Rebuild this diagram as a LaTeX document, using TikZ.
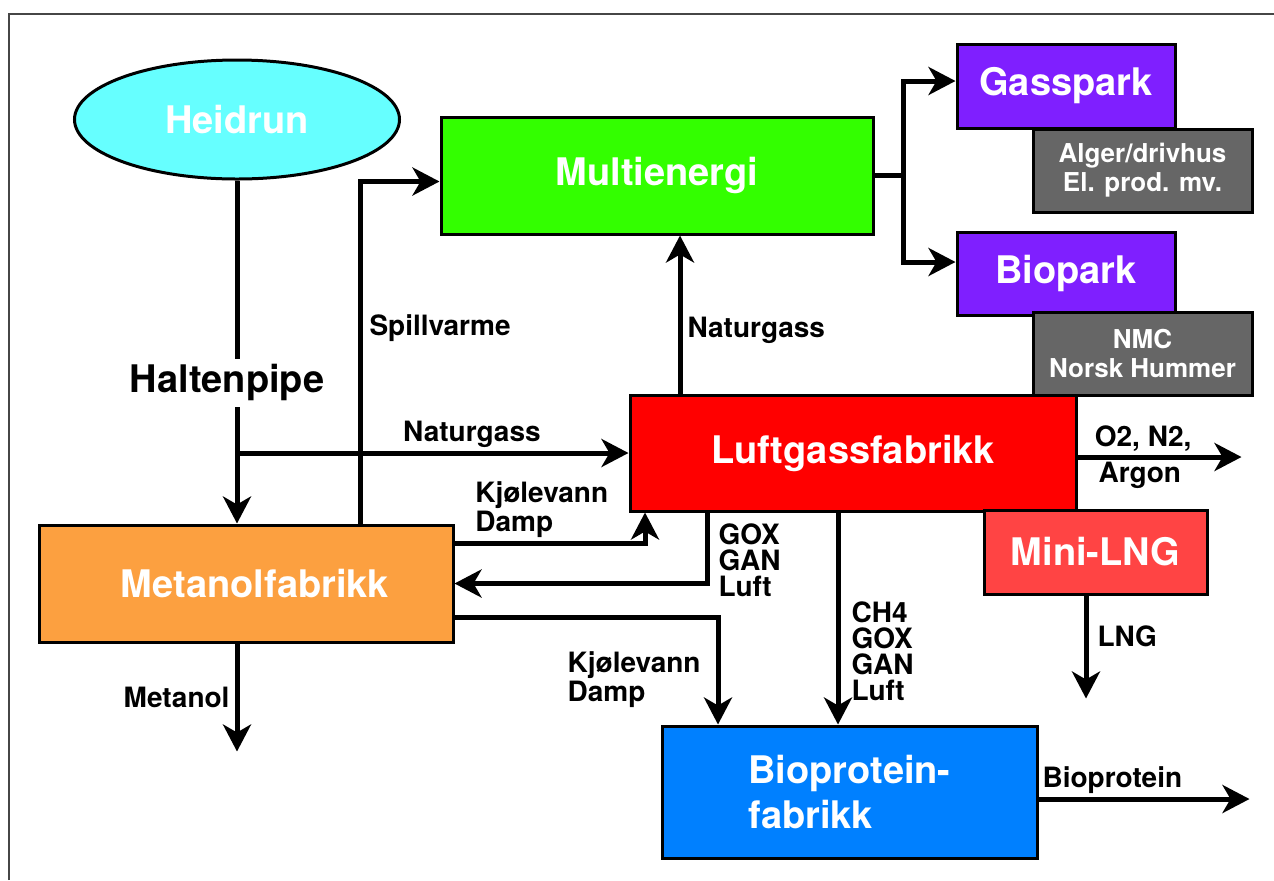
\documentclass[tikz,border=0pt]{standalone}
\usepackage{fontspec}
\setmainfont{TeX Gyre Heros}
\usetikzlibrary{positioning,arrows.meta,shapes.geometric}
\definecolor{heidcyan}{RGB}{102,255,255}
\definecolor{multigreen}{RGB}{51,255,0}
\definecolor{parkpurple}{RGB}{127,31,255}
\definecolor{notegray}{RGB}{102,102,102}
\definecolor{luftred}{RGB}{255,0,0}
\definecolor{lngred}{RGB}{255,68,68}
\definecolor{metorange}{RGB}{252,160,64}
\definecolor{protblue}{RGB}{0,128,255}
\definecolor{framegray}{RGB}{70,70,70}

\begin{document}
\begin{tikzpicture}[x=0.5pt,y=-0.5pt,
    plant/.style={draw=black,line width=1.5pt,inner sep=0pt,text=white,
      font=\bfseries\fontsize{19}{22.5}\selectfont},
    note/.style={draw=black,line width=1.5pt,fill=notegray,inner sep=0pt,text=white,
      align=center,minimum width=109.5pt,minimum height=41.5pt,
      font=\bfseries\fontsize{13}{14.5}\selectfont},
    pipe/.style={line width=2.5pt},
    flow/.style={pipe,-{Stealth[length=13.5pt,width=14pt,inset=4pt]}},
    lbl/.style={inner sep=1.5pt,align=left,font=\bfseries\fontsize{14}{13}\selectfont}]
  \useasboundingbox (0,0) rectangle (1274,880);
  \draw[framegray,line width=1pt] (9,880) -- (9,14) -- (1274,14);

  % anlegg
  \node[plant,ellipse,fill=heidcyan,minimum width=162.5pt,minimum height=59.5pt] (heidrun) at (237,119.5) {Heidrun};
  \node[plant,fill=multigreen,minimum width=216pt,minimum height=58.5pt] (multi) at (657,175.5) {Multienergi};
  \node[plant,fill=parkpurple,minimum width=109pt,minimum height=42pt] (gass) at (1066,86) {Gasspark};
  \node[note] (alger) at (1142.5,170.5) {Alger/drivhus\\El. prod. mv.};
  \node[plant,fill=parkpurple,minimum width=109pt,minimum height=41.5pt] (bio) at (1066,273.5) {Biopark};
  \node[note] (nmc) at (1142.5,353.5) {NMC\\Norsk Hummer};
  \node[plant,fill=luftred,minimum width=223pt,minimum height=58pt] (luft) at (853,453) {Luftgassfabrikk};
  \node[plant,fill=lngred,minimum width=111.5pt,minimum height=42pt] (mini) at (1095.5,552) {Mini-LNG};
  \node[plant,fill=metorange,minimum width=207pt,minimum height=58.5pt,text depth=0pt] (metanol) at (246,583.5) {\hspace*{9pt}Metanolfabrikk};
  \node[plant,fill=protblue,align=left,minimum width=187.5pt,minimum height=66pt] (protein) at (849.5,792) {Bioprotein-\\fabrikk};

  % strømmer
  \draw[flow] (heidrun.south) -- node[pos=0.59,fill=white,inner sep=3pt,xshift=-5pt,
    font=\bfseries\fontsize{19}{22}\selectfont] (haltenlbl) {Haltenpipe} (heidrun.south |- metanol.north);
  \draw[flow] (heidrun.south |- luft.west) -- node[pos=0.6,above,lbl] (ngaslbl) {Naturgass} (luft.west);
  \draw[flow] ([xshift=57pt]metanol.north) |- node[pos=0.286,anchor=west,lbl,xshift=2pt] (spilllbl) {Spillvarme} ([yshift=-3pt]multi.west);
  \draw[flow] ([xshift=-86.5pt]luft.north) -- node[pos=0.4,anchor=west,lbl,xshift=1pt] (ngasuplbl) {Naturgass} ([xshift=-86.5pt]luft.north |- multi.south);

  \coordinate (split) at ([xshift=14.5pt]multi.east);
  \draw[pipe] (multi.east) -- (split);
  \draw[flow] (split) |- ([yshift=2.5pt]gass.west);
  \draw[flow] (split) |- ([yshift=5.75pt]bio.west);

  \draw[flow] ([yshift=20.25pt]metanol.east) -| node[pos=0.25,above,lbl,xshift=-4pt] (kjol1lbl) {Kjølevann\\Damp} ([xshift=-104pt]luft.south);
  \draw[flow] ([xshift=-73pt]luft.south) |- node[pos=0,anchor=north west,lbl,xshift=3pt,yshift=-3pt] (goxlbl) {GOX\\GAN\\Luft} (metanol.east);
  \draw[flow] ([yshift=-16.75pt]metanol.east) -| node[pos=0.79,anchor=east,lbl,xshift=-6pt] (kjol2lbl) {Kjølevann\\Damp} ([xshift=-65.75pt]protein.north);
  \draw[flow] ([xshift=-7.5pt]luft.south) -- node[pos=0.656,anchor=west,lbl,xshift=4pt] (ch4lbl) {CH4\\GOX\\GAN\\Luft} ([xshift=-7.5pt]luft.south |- protein.north);

  \draw[flow] ([yshift=-2pt]luft.east) -- ++(164,0) coordinate (gasout)
    node[pos=0.4,above,lbl] (o2lbl) {O2, N2,}
    node[pos=0.38,below,lbl] (arglbl) {Argon};
  \draw[flow] ([xshift=-4.75pt]mini.south) -- ++(0,103) coordinate (lngout)
    node[pos=0.4,anchor=west,lbl,xshift=3pt] (lnglbl) {LNG};
  \draw[flow] ([yshift=-3.5pt]protein.east) -- ++(211,0) coordinate (protout)
    node[pos=0.35,above,lbl] (protlbl) {Bioprotein};
  \draw[flow] ([xshift=-4.5pt]metanol.south) -- ++(0,108) coordinate (metout)
    node[pos=0.5,anchor=east,lbl,xshift=-1pt] (metlbl) {Metanol};
\end{tikzpicture}
\end{document}
